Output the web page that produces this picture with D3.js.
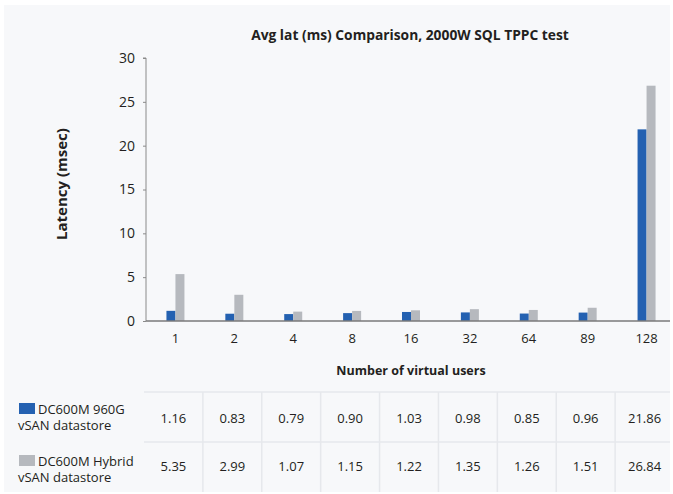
<!DOCTYPE html>
<html lang="en">
<head>
	<meta charset="UTF-8">
	<title>avg lat comparison</title>
	<style>
		html, body { margin: 0; padding: 0; background: #fff; }
		svg text { font-family: "Open Sans", "Noto Sans", sans-serif; fill: #231f20; }
	</style>
</head>
<body>
	<svg id="container" width="673" height="494"></svg>
<script src="https://cdn.jsdelivr.net/npm/d3@7"></script>
<script>
	// chart data
	let categories = ["1", "2", "4", "8", "16", "32", "64", "89", "128"]
	let seriesNames = [["DC600M 960G", "vSAN datastore"], ["DC600M Hybrid", "vSAN datastore"]]
	let dc960 = [1.16, 0.83, 0.79, 0.90, 1.03, 0.98, 0.85, 0.96, 21.86]
	let dcHybrid = [5.35, 2.99, 1.07, 1.15, 1.22, 1.35, 1.26, 1.51, 26.84]
	let yTicks = [0, 5, 10, 15, 20, 25, 30]
	let colors = ["#2461b1", "#b6b9be"]

	let svg = d3.select("#container")

	// light panel behind everything
	svg.append("rect")
		.attr("x", 4).attr("y", 5)
		.attr("width", 666).attr("height", 487)
		.attr("fill", "#f7f8fa")

	let plotLeft = 146, plotRight = 676, plotTop = 58, plotBottom = 321

	let x = d3.scaleBand()
		.domain(categories)
		.range([plotLeft, plotRight])
		.paddingInner(0)

	let inner = d3.scaleBand()
		.domain([0, 1])
		.range([0, 18])

	let y = d3.scaleLinear()
		.domain([0, 30])
		.range([plotBottom, plotTop])

	// title
	svg.append("text")
		.attr("x", 410).attr("y", 40)
		.attr("text-anchor", "middle")
		.attr("font-weight", "bold")
		.attr("font-size", "13.8px")
		.text("Avg lat (ms) Comparison, 2000W SQL TPPC test")

	// y axis
	let yAxis = svg.append("g")
		.attr("transform", `translate(${plotLeft},0)`)
		.call(d3.axisLeft(y).tickValues(yTicks).tickSize(3).tickPadding(8))
	yAxis.select(".domain").attr("stroke", "#8a8a8a").attr("d", `M-3,${plotTop}H0V${plotBottom}`)
	yAxis.selectAll(".tick line").attr("stroke", "#8a8a8a")
	yAxis.selectAll(".tick text")
		.attr("font-size", "14px")
		.attr("fill", "#231f20")
		.style("font-family", "'Open Sans', sans-serif")

	svg.append("text")
		.attr("transform", `translate(67,184) rotate(-90)`)
		.attr("text-anchor", "middle")
		.attr("font-weight", "bold")
		.attr("font-size", "15px")
		.text("Latency (msec)")

	// bars
	let groups = svg.selectAll("g.cat")
		.data(categories)
		.enter()
		.append("g")
		.attr("class", "cat")
		.attr("transform", d => `translate(${x(d) + x.bandwidth() / 2 - 9},0)`)

	groups.selectAll("rect")
		.data((d, i) => [dc960[i], dcHybrid[i]])
		.enter()
		.append("rect")
		.attr("x", (d, j) => inner(j))
		.attr("width", inner.bandwidth())
		.attr("y", d => y(d))
		.attr("height", d => y(0) - y(d))
		.attr("fill", (d, j) => colors[j])

	// x axis
	let xAxis = svg.append("g")
		.attr("transform", `translate(0,${plotBottom})`)
		.call(d3.axisBottom(x).tickSize(0).tickPadding(13))
	xAxis.select(".domain").attr("stroke", "#7a7a7a").attr("stroke-width", 1.5).attr("d", `M${plotLeft},0H670`)
	xAxis.selectAll(".tick text")
		.attr("font-size", "13px")
		.attr("fill", "#231f20")
		.style("font-family", "'Open Sans', sans-serif")

	svg.append("text")
		.attr("x", 411).attr("y", 375)
		.attr("text-anchor", "middle")
		.attr("font-weight", "bold")
		.attr("font-size", "12.5px")
		.text("Number of virtual users")

	// data table
	let table = svg.append("g")
	let rowTop = 392, rowH = 50
	let lineColor = "#e6e8ec"
	table.append("line")
		.attr("x1", plotLeft - 2).attr("x2", 670)
		.attr("y1", rowTop).attr("y2", rowTop)
		.attr("stroke", lineColor).attr("stroke-width", 1.5)
	table.append("line")
		.attr("x1", plotLeft - 2).attr("x2", 670)
		.attr("y1", rowTop + rowH).attr("y2", rowTop + rowH)
		.attr("stroke", lineColor).attr("stroke-width", 1.5)
	table.selectAll("line.col")
		.data(categories.slice(1))
		.enter()
		.append("line")
		.attr("class", "col")
		.attr("x1", d => x(d) - 2).attr("x2", d => x(d) - 2)
		.attr("y1", rowTop).attr("y2", 492)
		.attr("stroke", lineColor).attr("stroke-width", 1.5)

	let rows = [dc960, dcHybrid]
	rows.forEach((vals, r) => {
		table.selectAll("text.v" + r)
			.data(vals)
			.enter()
			.append("text")
			.attr("class", "v" + r)
			.attr("x", (d, i) => x(categories[i]) + x.bandwidth() / 2 - 2)
			.attr("y", rowTop + 31 + r * 48)
			.attr("text-anchor", "middle")
			.attr("font-size", "13px")
			.text(d => d.toFixed(2))

		table.append("rect")
			.attr("x", 19).attr("y", rowTop + 11 + r * 52)
			.attr("width", 16).attr("height", 11)
			.attr("fill", colors[r])
		table.append("text")
			.attr("x", 38).attr("y", rowTop + 22 + r * 52)
			.attr("font-size", "13px")
			.attr("fill", "#4d4d4f")
			.text(seriesNames[r][0])
		table.append("text")
			.attr("x", 18).attr("y", rowTop + 38 + r * 52)
			.attr("font-size", "13px")
			.attr("fill", "#4d4d4f")
			.text(seriesNames[r][1])
	})
</script>
</body>
</html>
